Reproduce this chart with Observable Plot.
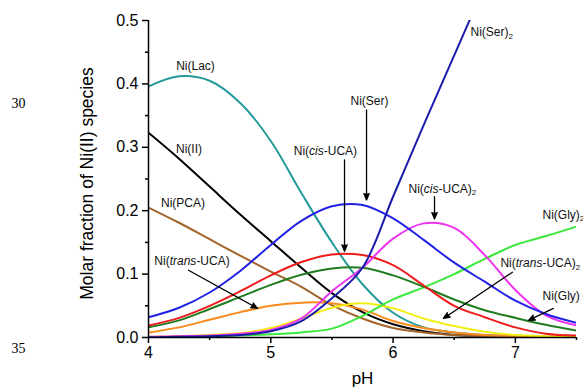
<!DOCTYPE html>
<html>
<head>
<meta charset="utf-8">
<script src="https://cdn.jsdelivr.net/npm/d3@7"></script>
<script src="https://cdn.jsdelivr.net/npm/@observablehq/plot@0.6"></script>
<style>
  html, body { margin: 0; padding: 0; background: #fff; }
  .arrows path { fill: #000; }
</style>
</head>
<body>
<div id="chart"></div>
<script>
// pH grid
const pH = [4, 4.25, 4.5, 4.75, 5, 5.25, 5.5, 5.75, 6, 6.25, 6.5, 6.75, 7, 7.25, 7.5];

// Molar fractions of Ni(II) species
const niLac      = [0.396, 0.412, 0.405, 0.370, 0.310, 0.228, 0.150, 0.084, 0.039, 0.016, 0.008, 0.004, 0.002, 0.001, 0.001];
const niII       = [0.323, 0.282, 0.238, 0.194, 0.152, 0.110, 0.070, 0.040, 0.021, 0.010, 0.004, 0.002, 0.001, 0.000, 0.000];
const niPCA      = [0.205, 0.181, 0.155, 0.129, 0.104, 0.080, 0.051, 0.030, 0.015, 0.008, 0.004, 0.002, 0.001, 0.000, 0.000];
const niSer      = [0.032, 0.047, 0.071, 0.105, 0.146, 0.184, 0.207, 0.209, 0.188, 0.154, 0.118, 0.088, 0.058, 0.037, 0.023];
const niSer2     = [0.000, 0.001, 0.002, 0.004, 0.010, 0.026, 0.062, 0.110, 0.222, 0.335, 0.445, 0.555];
const niCisUCA   = [0.019, 0.031, 0.050, 0.073, 0.098, 0.119, 0.131, 0.130, 0.114, 0.082, 0.050, 0.032, 0.016, 0.006, 0.003];
const niGly      = [0.016, 0.027, 0.045, 0.064, 0.083, 0.099, 0.109, 0.110, 0.098, 0.080, 0.060, 0.043, 0.031, 0.020, 0.011];
const niTransUCA = [0.008, 0.016, 0.028, 0.040, 0.050, 0.055, 0.054, 0.044, 0.026, 0.015, 0.008, 0.004, 0.002, 0.001, 0.000];
const niTransUCA2= [0.001, 0.002, 0.004, 0.007, 0.015, 0.030, 0.047, 0.054, 0.046, 0.030, 0.018, 0.009, 0.004, 0.002, 0.001];
const niCisUCA2  = [0.001, 0.002, 0.003, 0.006, 0.012, 0.030, 0.073, 0.110, 0.156, 0.180, 0.173, 0.130, 0.075, 0.035, 0.019];
const niGly2     = [0.000, 0.001, 0.002, 0.003, 0.005, 0.008, 0.014, 0.034, 0.060, 0.079, 0.100, 0.124, 0.146, 0.160, 0.175];

const seriesNames = ["Ni(Lac)", "Ni(II)", "Ni(PCA)", "Ni(trans-UCA)", "Ni(trans-UCA)2", "Ni(Gly)2",
                     "Ni(Gly)", "Ni(cis-UCA)", "Ni(cis-UCA)2", "Ni(Ser)", "Ni(Ser)2"];
const seriesValues = [niLac, niII, niPCA, niTransUCA, niTransUCA2, niGly2,
                      niGly, niCisUCA, niCisUCA2, niSer, niSer2];
const seriesColors = ["#259a9a", "#000000", "#a3652b", "#fa8a1c", "#f2ee14", "#3be83b",
                      "#1f7d1f", "#ee1c1c", "#ee34ee", "#2222e6", "#1a1caa"];

// tick values
const yTicks = [0, 0.1, 0.2, 0.3, 0.4, 0.5];
const yMinor = [0.05, 0.15, 0.25, 0.35, 0.45];
const xTicks = [4, 5, 6, 7];
const xMinor = [4.5, 5.5, 6.5, 7.5];

// annotations: text (markup: *italic*, _2 subscript), position in data units
const labelText   = ["Ni(Lac)", "Ni(II)", "Ni(PCA)", "Ni(*trans*-UCA)", "Ni(*cis*-UCA)", "Ni(Ser)",
                     "Ni(Ser)_2", "Ni(*cis*-UCA)_2", "Ni(Gly)_2", "Ni(*trans*-UCA)_2", "Ni(Gly)"];
const labelX      = [4.384, 4.331, 4.282, 4.356, 5.447, 5.807, 6.633, 6.126, 7.222, 6.878, 7.222];
const labelY      = [0.428, 0.297, 0.212, 0.120, 0.294, 0.373, 0.481, 0.234, 0.193, 0.117, 0.065];
const labelAnchor = ["middle", "middle", "middle", "middle", "middle", "middle", "start", "start", "start", "start", "start"];

const arrowX1 = [4.327, 5.603, 5.783, 6.339, 6.976, 7.311];
const arrowY1 = [0.106, 0.280, 0.359, 0.222, 0.103, 0.046];
const arrowX2 = [4.891, 5.603, 5.783, 6.339, 6.412, 7.107];
const arrowY2 = [0.046, 0.136, 0.217, 0.187, 0.030, 0.027];

const yTitle = "Molar fraction of Ni(II) species";
const xTitle = "pH";
const lineNumbers = ["30", "35"];

// build tables
const rows = [];
seriesNames.forEach((name, i) => {
  seriesValues[i].forEach((v, j) => rows.push({series: name, pH: pH[j], value: v}));
});
const labels = labelText.map((t, i) => ({text: t, x: labelX[i], y: labelY[i], anchor: labelAnchor[i]}));
const arrows = arrowX1.map((x1, i) => ({x1, y1: arrowY1[i], x2: arrowX2[i], y2: arrowY2[i]}));

const font = "'Liberation Sans', Arial, Helvetica, sans-serif";

const plot = Plot.plot({
  width: 583,
  height: 391,
  marginLeft: 148,
  marginRight: 7,
  marginTop: 20,
  marginBottom: 54,
  style: {fontFamily: font, background: "#fff", color: "#000", overflow: "visible"},
  x: {domain: [4, 7.5], label: null},
  y: {domain: [0, 0.5], label: null},
  color: {domain: seriesNames, range: seriesColors},
  marks: [
    Plot.line(rows, {x: "pH", y: "value", z: "series", stroke: "series", strokeWidth: 2, curve: "catmull-rom", clip: true}),
    Plot.axisY({ticks: yTicks, tickFormat: d3.format(".1f"), tickSize: 6, tickPadding: 4, fontSize: 16, strokeWidth: 1.5, label: null}),
    Plot.axisY({ticks: yMinor, tickFormat: () => "", tickSize: 3, strokeWidth: 1.5, label: null}),
    Plot.axisX({ticks: xTicks, tickFormat: d3.format("d"), tickSize: 6, tickPadding: 3, fontSize: 16, strokeWidth: 1.5, label: null}),
    Plot.axisX({ticks: xMinor, tickFormat: () => "", tickSize: 3, strokeWidth: 1.5, label: null}),
    Plot.ruleX([4], {strokeWidth: 1.5}),
    Plot.ruleY([0], {strokeWidth: 1.5}),
    Plot.arrow(arrows, {x1: "x1", y1: "y1", x2: "x2", y2: "y2", stroke: "#000", strokeWidth: 1.3, headLength: 8, headAngle: 45, className: "arrows"}),
    Plot.text(labels, {x: "x", y: "y", text: "text", fontSize: 12, fill: "#111", className: "anno"}),
    Plot.text([yTitle], {frameAnchor: "left", textAnchor: "middle", dx: -61, dy: 4.5, rotate: -90, fontSize: 17.5}),
    Plot.text([xTitle], {frameAnchor: "bottom", textAnchor: "middle", dy: 46, fontSize: 17})
  ]
});

document.getElementById("chart").appendChild(plot);
const svg = d3.select(plot);

// per-label anchor, italics and subscripts
svg.selectAll(".anno text").each(function() {
  const node = d3.select(this);
  const raw = node.text();
  const lab = labels.find(l => l.text === raw);
  if (lab) node.attr("text-anchor", lab.anchor);
  node.text(null);
  const parts = raw.split(/(\*[^*]+\*|_2)/).filter(s => s.length);
  for (const p of parts) {
    if (p.startsWith("*")) node.append("tspan").attr("font-style", "italic").text(p.slice(1, -1));
    else if (p === "_2") node.append("tspan").attr("dy", "0.3em").attr("font-size", 8).text("2");
    else node.append("tspan").text(p);
  }
});

// manuscript line numbers in the left margin
const ln = svg.append("g").attr("font-family", "'Liberation Serif', 'Times New Roman', serif").attr("font-size", 14);
ln.append("text").attr("x", 18.5).attr("y", 108).attr("text-anchor", "middle").text(lineNumbers[0]);
ln.append("text").attr("x", 18.5).attr("y", 353).attr("text-anchor", "middle").text(lineNumbers[1]);
</script>
</body>
</html>
